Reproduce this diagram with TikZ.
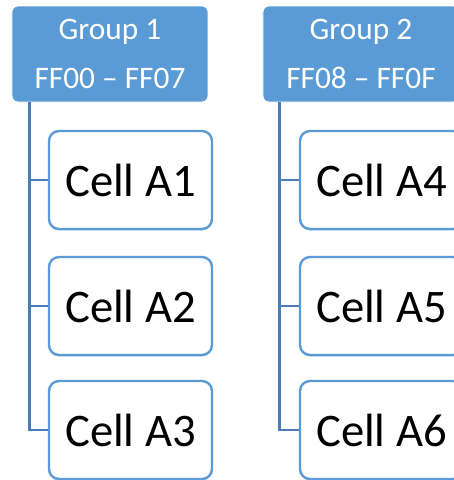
\documentclass[tikz,border=0pt]{standalone}
\usepackage{fontspec}
\setmainfont{Carlito}
\usetikzlibrary{shadows}
\definecolor{grpfill}{HTML}{5B9BD5}
\definecolor{cellline}{HTML}{5B9BD5}
\definecolor{connline}{HTML}{4A7DB5}
\begin{document}
\begin{tikzpicture}[x=0.75pt,y=-0.75pt,
  grp/.style={draw=white, line width=0.6pt, fill=grpfill, rounded corners=4.5pt,
    minimum width=147pt, minimum height=72pt, inner sep=0pt, align=center,
    text=white, font=\fontsize{23.5}{36.75}\selectfont},
  cell/.style={draw=cellline, line width=1.8pt, fill=white, rounded corners=7.5pt,
    minimum width=122.25pt, minimum height=73.5pt, inner sep=0pt,
    font=\fontsize{35}{40}\selectfont,
    drop shadow={shadow xshift=0pt, shadow yshift=-1.2pt, opacity=0.35, fill=cellline}},
  conn/.style={draw=connline, line width=2.2pt}]
\useasboundingbox (0,0) rectangle (454,480);
\begin{scope}
\clip (0,0) rectangle (454,480);
\node[grp] (g1) at (110,54) {Group 1\\FF00 -- FF07};
\node[grp] (g2) at (361,54) {Group 2\\FF08 -- FF0F};
\node[cell] (a1) at (130.5,180) {Cell A1};
\node[cell] (a2) at (130.5,306) {Cell A2};
\node[cell] (a3) at (130.5,430) {Cell A3};
\node[cell] (a4) at (381.5,180) {Cell A4};
\node[cell] (a5) at (381.5,306) {Cell A5};
\node[cell] (a6) at (381.5,430) {Cell A6};
\coordinate (t1) at ([xshift=13.5pt]g1.south west);
\coordinate (t2) at ([xshift=12.75pt]g2.south west);
\draw[conn] (t1) |- (a3.west);
\draw[conn] (t1 |- a1.west) -- (a1.west);
\draw[conn] (t1 |- a2.west) -- (a2.west);
\draw[conn] (t2) |- (a6.west);
\draw[conn] (t2 |- a4.west) -- (a4.west);
\draw[conn] (t2 |- a5.west) -- (a5.west);
\end{scope}
\end{tikzpicture}
\end{document}
